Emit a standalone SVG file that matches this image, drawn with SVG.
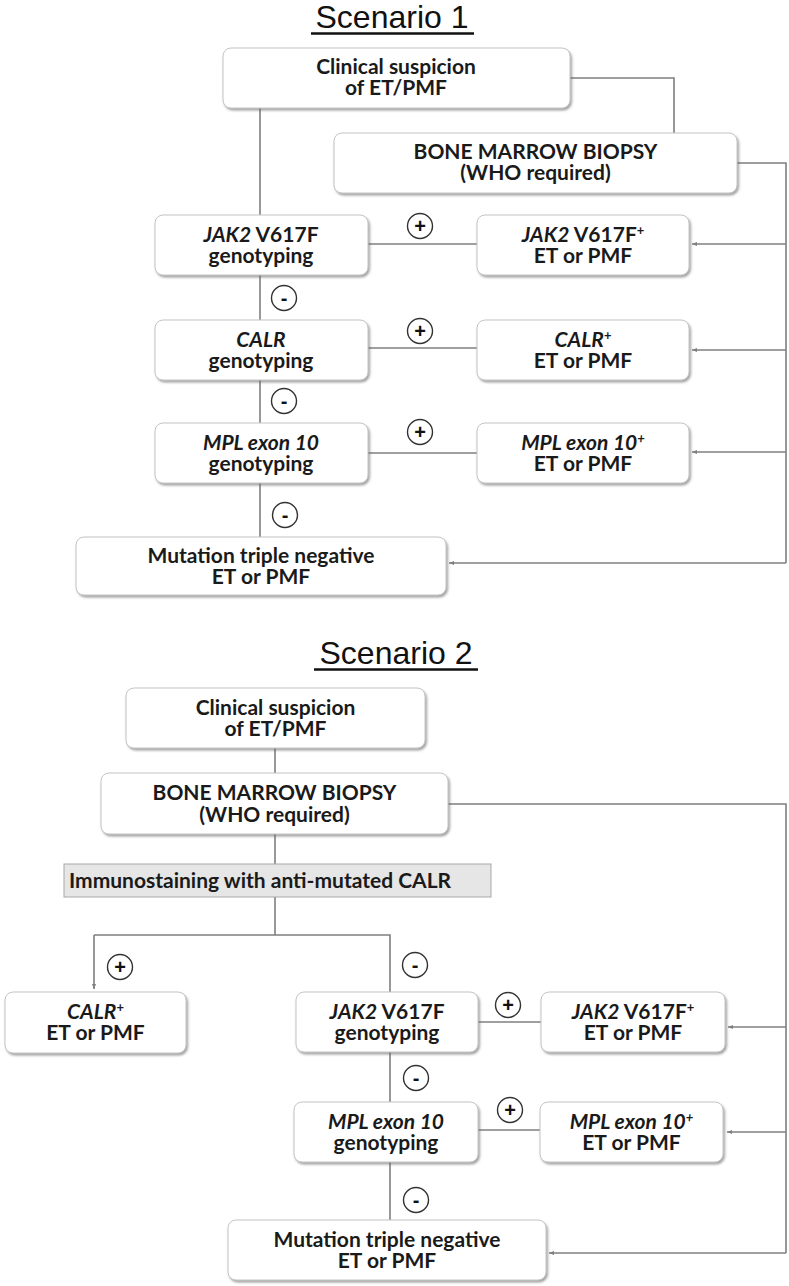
<svg xmlns="http://www.w3.org/2000/svg" width="789" height="1286" viewBox="0 0 789 1286">
<style>
.bx{fill:#fff;stroke:#c4c4c4;stroke-width:1;filter:url(#sh)}
.t{font-family:Lato,"Open Sans","Liberation Sans",sans-serif;font-weight:bold;font-size:21px;fill:#1a1a1a;text-anchor:middle}
.i{font-style:italic}
.sup{font-size:13px}
.ttl{font-family:"Liberation Sans",Arial,sans-serif;font-size:32px;fill:#111;text-anchor:middle}
.ul{stroke:#111;stroke-width:2.5}
.c{fill:none;stroke:#7f7f7f;stroke-width:1.6}
.ca{fill:none;stroke:#7f7f7f;stroke-width:1.6;marker-end:url(#ah)}
.cir{fill:#fff;stroke:#333;stroke-width:1.4}
.sg{font-family:"Liberation Sans",Arial,sans-serif;font-weight:bold;font-size:20px;fill:#111;text-anchor:middle}
</style>
<defs>
<filter id="sh" x="-5%" y="-10%" width="115%" height="130%">
<feDropShadow dx="1.5" dy="2" stdDeviation="1" flood-color="#666" flood-opacity="0.6"/>
</filter>
<marker id="ah" markerWidth="6" markerHeight="6" refX="5" refY="3" orient="auto" markerUnits="userSpaceOnUse">
<path d="M0,1 L5,3 L0,5 Z" fill="#7f7f7f"/>
</marker>
</defs>

<g id="titles">
<text class="ttl" x="392" y="28">Scenario 1</text>
<line class="ul" x1="311" y1="33.5" x2="474" y2="33.5"/>
<text class="ttl" x="396" y="664">Scenario 2</text>
<line class="ul" x1="314" y1="669.5" x2="478" y2="669.5"/>
</g>

<g id="connectors">
<path class="c" d="M570 78 H674 V133"/>
<path class="c" d="M260 108 V215"/>
<path class="c" d="M737 163 H786 V563"/>
<path class="ca" d="M786 244 H692"/>
<path class="ca" d="M786 350 H692"/>
<path class="ca" d="M786 452 H692"/>
<path class="ca" d="M786 563 H449"/>
<path class="c" d="M368 244 H477"/>
<path class="c" d="M368 348 H477"/>
<path class="c" d="M368 453 H477"/>
<path class="c" d="M260 275 V320"/>
<path class="c" d="M260 380 V423"/>
<path class="c" d="M260 483 V537"/>

<path class="c" d="M275 748 V773"/>
<path class="c" d="M448 804 H786 V1253"/>
<path class="c" d="M275 834 V864"/>
<path class="c" d="M275 897 V935"/>
<path class="c" d="M94 935 H390 V992"/>
<path class="ca" d="M94 935 V989"/>
<path class="c" d="M478 1022 H541"/>
<path class="ca" d="M786 1027 H728"/>
<path class="c" d="M390 1052 V1102"/>
<path class="c" d="M478 1130 H540"/>
<path class="ca" d="M786 1132 H727"/>
<path class="c" d="M390 1162 V1220"/>
<path class="ca" d="M786 1253 H549"/>
</g>

<g id="signs">
<circle class="cir" cx="420" cy="226" r="12.5"/><text class="sg" x="420" y="233">+</text>
<circle class="cir" cx="420" cy="331" r="12.5"/><text class="sg" x="420" y="338">+</text>
<circle class="cir" cx="420" cy="432" r="12.5"/><text class="sg" x="420" y="439">+</text>
<circle class="cir" cx="284" cy="298" r="12.5"/><text class="sg" x="284" y="305">-</text>
<circle class="cir" cx="284" cy="401" r="12.5"/><text class="sg" x="284" y="408">-</text>
<circle class="cir" cx="285" cy="515" r="12.5"/><text class="sg" x="285" y="522">-</text>
<circle class="cir" cx="120" cy="967" r="12.5"/><text class="sg" x="120" y="974">+</text>
<circle class="cir" cx="415" cy="965" r="12.5"/><text class="sg" x="415" y="972">-</text>
<circle class="cir" cx="508" cy="1005" r="12.5"/><text class="sg" x="508" y="1012">+</text>
<circle class="cir" cx="416" cy="1078" r="12.5"/><text class="sg" x="416" y="1085">-</text>
<circle class="cir" cx="510" cy="1110" r="12.5"/><text class="sg" x="510" y="1117">+</text>
<circle class="cir" cx="416" cy="1200" r="12.5"/><text class="sg" x="416" y="1207">-</text>
</g>

<g id="s1-clinical"><rect class="bx" x="223" y="48" width="347" height="60" rx="8"/>
<text class="t" x="396" y="74">Clinical suspicion</text><text class="t" x="396" y="95">of ET/PMF</text></g>
<g id="s1-bmb"><rect class="bx" x="334" y="133" width="403" height="60" rx="8"/>
<text class="t" x="535.5" y="159">BONE MARROW BIOPSY</text><text class="t" x="535.5" y="180">(WHO required)</text></g>
<g id="s1-jak2"><rect class="bx" x="155" y="215" width="213" height="60" rx="8"/>
<text class="t" x="261" y="242"><tspan class="i">JAK2</tspan> V617F</text><text class="t" x="261" y="263">genotyping</text></g>
<g id="s1-jak2pos"><rect class="bx" x="477" y="215" width="212" height="60" rx="8"/>
<text class="t" x="583" y="242"><tspan class="i">JAK2</tspan> V617F<tspan class="sup" dy="-7">+</tspan></text><text class="t" x="583" y="263">ET or PMF</text></g>
<g id="s1-calr"><rect class="bx" x="155" y="320" width="213" height="60" rx="8"/>
<text class="t i" x="261" y="347">CALR</text><text class="t" x="261" y="368">genotyping</text></g>
<g id="s1-calrpos"><rect class="bx" x="477" y="320" width="212" height="60" rx="8"/>
<text class="t" x="583" y="347"><tspan class="i">CALR</tspan><tspan class="sup" dy="-7">+</tspan></text><text class="t" x="583" y="368">ET or PMF</text></g>
<g id="s1-mpl"><rect class="bx" x="155" y="423" width="213" height="60" rx="8"/>
<text class="t i" x="261" y="450">MPL exon 10</text><text class="t" x="261" y="471">genotyping</text></g>
<g id="s1-mplpos"><rect class="bx" x="477" y="423" width="212" height="60" rx="8"/>
<text class="t" x="583" y="450"><tspan class="i">MPL exon 10</tspan><tspan class="sup i" dy="-7">+</tspan></text><text class="t" x="583" y="471">ET or PMF</text></g>
<g id="s1-triple"><rect class="bx" x="76" y="537" width="370" height="58" rx="8"/>
<text class="t" x="261" y="563">Mutation triple negative</text><text class="t" x="261" y="584">ET or PMF</text></g>

<g id="s2-clinical"><rect class="bx" x="126" y="688" width="299" height="60" rx="8"/>
<text class="t" x="275.5" y="715">Clinical suspicion</text><text class="t" x="275.5" y="736">of ET/PMF</text></g>
<g id="s2-bmb"><rect class="bx" x="101" y="773" width="347" height="61" rx="8"/>
<text class="t" x="274.5" y="800">BONE MARROW BIOPSY</text><text class="t" x="274.5" y="822">(WHO required)</text></g>
<g id="s2-immuno"><rect x="64" y="864" width="427" height="33" fill="#e6e6e6" stroke="#a8a8a8" stroke-width="1"/>
<text class="t" x="69" y="888" style="text-anchor:start">Immunostaining with anti-mutated CALR</text></g>
<g id="s2-calrpos"><rect class="bx" x="5" y="992" width="181" height="61" rx="8"/>
<text class="t" x="95.5" y="1019"><tspan class="i">CALR</tspan><tspan class="sup" dy="-7">+</tspan></text><text class="t" x="95.5" y="1040">ET or PMF</text></g>
<g id="s2-jak2"><rect class="bx" x="296" y="992" width="182" height="60" rx="8"/>
<text class="t" x="387" y="1019"><tspan class="i">JAK2</tspan> V617F</text><text class="t" x="387" y="1040">genotyping</text></g>
<g id="s2-jak2pos"><rect class="bx" x="541" y="992" width="184" height="60" rx="8"/>
<text class="t" x="633" y="1019"><tspan class="i">JAK2</tspan> V617F<tspan class="sup" dy="-7">+</tspan></text><text class="t" x="633" y="1040">ET or PMF</text></g>
<g id="s2-mpl"><rect class="bx" x="294" y="1102" width="184" height="60" rx="8"/>
<text class="t i" x="386" y="1129">MPL exon 10</text><text class="t" x="386" y="1150">genotyping</text></g>
<g id="s2-mplpos"><rect class="bx" x="540" y="1102" width="183" height="60" rx="8"/>
<text class="t" x="631.5" y="1129"><tspan class="i">MPL exon 10</tspan><tspan class="sup i" dy="-7">+</tspan></text><text class="t" x="631.5" y="1150">ET or PMF</text></g>
<g id="s2-triple"><rect class="bx" x="228" y="1220" width="318" height="60" rx="8"/>
<text class="t" x="387" y="1247">Mutation triple negative</text><text class="t" x="387" y="1268">ET or PMF</text></g>
</svg>
